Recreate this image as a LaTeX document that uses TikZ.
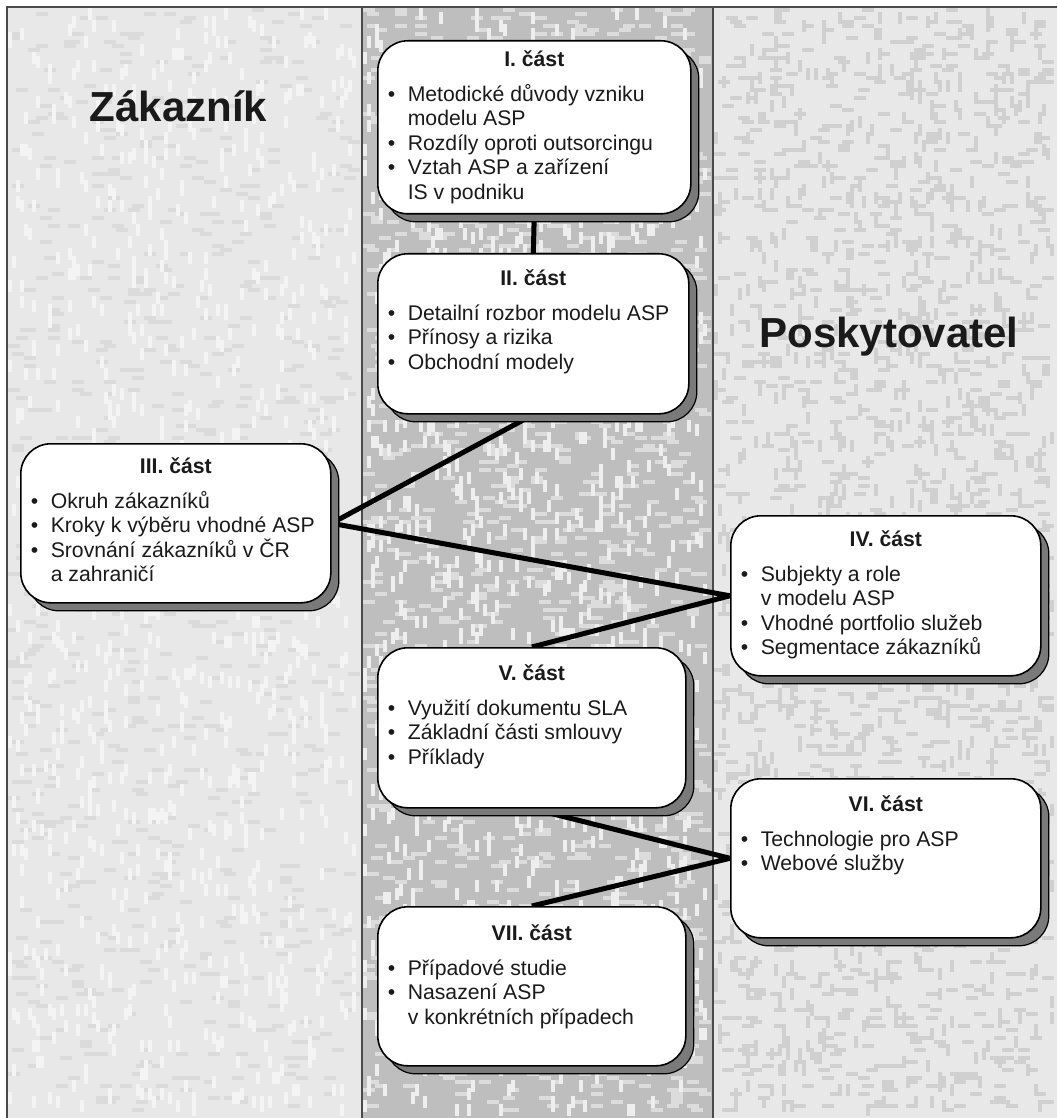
\documentclass[tikz,border=0pt]{standalone}
\usepackage{fontspec}
\setmainfont{Liberation Sans}
\usetikzlibrary{shadows}
\definecolor{sidebg}{HTML}{E8E8E8}
\definecolor{sidespk}{HTML}{D0D0D0}
\definecolor{sidelite}{HTML}{F4F4F4}
\definecolor{midbg}{HTML}{BEBEBE}
\definecolor{midspk}{HTML}{DCDCDC}
\definecolor{midlite}{HTML}{EEEEEE}
\definecolor{shadowgray}{HTML}{7A7A7A}
\definecolor{framegray}{HTML}{4A4A4A}
\definecolor{inkblack}{HTML}{1A1A1A}
\pgfdeclarelayer{bg}
\pgfdeclarelayer{links}
\pgfsetlayers{bg,links,main}

% #1 width, #2 height, #3 title baseline offset, #4 title, #5 lines
\newcommand\partcontent[5]{%
  \parbox[c][#2][t]{#1}{\fontsize{10.6pt}{12.25pt}\selectfont\parindent=0pt\parskip=0pt
    \makebox[#1]{\rule{0pt}{#3}\textbf{#4}}\par\vspace{5.25pt}#5}}
\newcommand\bl{\par\hspace*{5pt}\makebox[10pt][l]{\textbullet}}
\newcommand\cl{\par\hspace*{15pt}}

\tikzset{
  part/.style={draw=black, line width=0.8pt, fill=white, rounded corners=15pt,
    inner sep=0pt, anchor=north west, text=inkblack,
    drop shadow={shadow xshift=4pt, shadow yshift=-4pt, fill=shadowgray,
      draw=black, line width=0.6pt, opacity=1}},
  link/.style={line width=2.5pt, black},
  colline/.style={line width=0.7pt, framegray},
  bigtitle/.style={font=\fontsize{21pt}{25pt}\selectfont\bfseries, text=inkblack, anchor=base}
}

\begin{document}
\begin{tikzpicture}[x=0.5pt, y=-0.5pt]
\useasboundingbox (0,0) rectangle (1057,1118);

\begin{pgfonlayer}{bg}
  \fill[white] (0,0) rectangle (1057,1118);
  \fill[sidebg] (7,7) rectangle (362,1118);
  \fill[midbg] (362,7) rectangle (713,1118);
  \fill[sidebg] (713,7) rectangle (1057,1118);
  \pgfmathsetseed{11}
  % middle column speckles
  \foreach \k in {1,...,1300}{%
    \pgfmathsetmacro\rx{363+int(rnd*85)*4}%
    \pgfmathsetmacro\ry{8+int(rnd*276)*4}%
    \fill[midspk] (\rx,\ry) rectangle ++(12,4);}
  \foreach \k in {1,...,1100}{%
    \pgfmathsetmacro\rx{363+int(rnd*86)*4}%
    \pgfmathsetmacro\ry{8+int(rnd*275)*4}%
    \fill[midlite] (\rx,\ry) rectangle ++(4,12);}
  % left column speckles
  \foreach \k in {1,...,800}{%
    \pgfmathsetmacro\rx{8+int(rnd*86)*4}%
    \pgfmathsetmacro\ry{8+int(rnd*276)*4}%
    \fill[sidespk!55!sidebg] (\rx,\ry) rectangle ++(12,4);}
  \foreach \k in {1,...,900}{%
    \pgfmathsetmacro\rx{8+int(rnd*87)*4}%
    \pgfmathsetmacro\ry{8+int(rnd*275)*4}%
    \fill[sidelite] (\rx,\ry) rectangle ++(4,12);}
  % right column speckles
  \foreach \k in {1,...,1100}{%
    \pgfmathsetmacro\rx{714+int(rnd*83)*4}%
    \pgfmathsetmacro\ry{8+int(rnd*276)*4}%
    \fill[sidespk] (\rx,\ry) rectangle ++(12,4);}
  \foreach \k in {1,...,900}{%
    \pgfmathsetmacro\rx{714+int(rnd*85)*4}%
    \pgfmathsetmacro\ry{8+int(rnd*275)*4}%
    \fill[sidespk] (\rx,\ry) rectangle ++(4,12);}
  % frame and column separators
  \draw[colline] (7,1118) -- (7,7) -- (1057,7);
  \draw[colline] (362,7) -- (362,1118);
  \draw[colline] (713,7) -- (713,1118);
\end{pgfonlayer}

% column headings
\node[bigtitle] (zak) at (178.5,122) {Zákazník};
\node[bigtitle] (posk) at (889,347) {Poskytovatel};

% parts
\node[part] (p1) at (377,40) {\partcontent{156.5pt}{86.5pt}{12.75pt}{I. část}{%
  \bl Metodické důvody vzniku\cl modelu ASP\bl Rozdíly oproti outsorcingu\bl Vztah ASP a zařízení\cl IS v podniku}};
\node[part] (p2) at (377,253) {\partcontent{155.5pt}{80pt}{15.75pt}{II. část}{%
  \bl Detailní rozbor modelu ASP\bl Přínosy a rizika\bl Obchodní modely}};
\node[part] (p3) at (20,443) {\partcontent{155pt}{79.5pt}{14.75pt}{III. část}{%
  \bl Okruh zákazníků\bl Kroky k výběru vhodné ASP\bl Srovnání zákazníků v ČR\cl a zahraničí}};
\node[part] (p4) at (730,515) {\partcontent{155pt}{80pt}{15.25pt}{IV. část}{%
  \bl Subjekty a role\cl v modelu ASP\bl Vhodné portfolio služeb\bl Segmentace zákazníků}};
\node[part] (p5) at (377,647) {\partcontent{154pt}{80pt}{16.25pt}{V. část}{%
  \bl Využití dokumentu SLA\bl Základní části smlouvy\bl Příklady}};
\node[part] (p6) at (730,778) {\partcontent{155pt}{79.5pt}{16.25pt}{VI. část}{%
  \bl Technologie pro ASP\bl Webové služby}};
\node[part] (p7) at (377,906) {\partcontent{154pt}{79.5pt}{16.75pt}{VII. část}{%
  \bl Případové studie\bl Nasazení ASP\cl v konkrétních případech}};

% connectors
\begin{pgfonlayer}{links}
  \draw[link] (p1.south) -- (p2.north);
  \draw[link] (p2.south) -- (p3.east) -- (p4.west) -- (p5.north);
  \draw[link] (p5.south) -- (p6.west) -- (p7.north);
\end{pgfonlayer}
\end{tikzpicture}
\end{document}
